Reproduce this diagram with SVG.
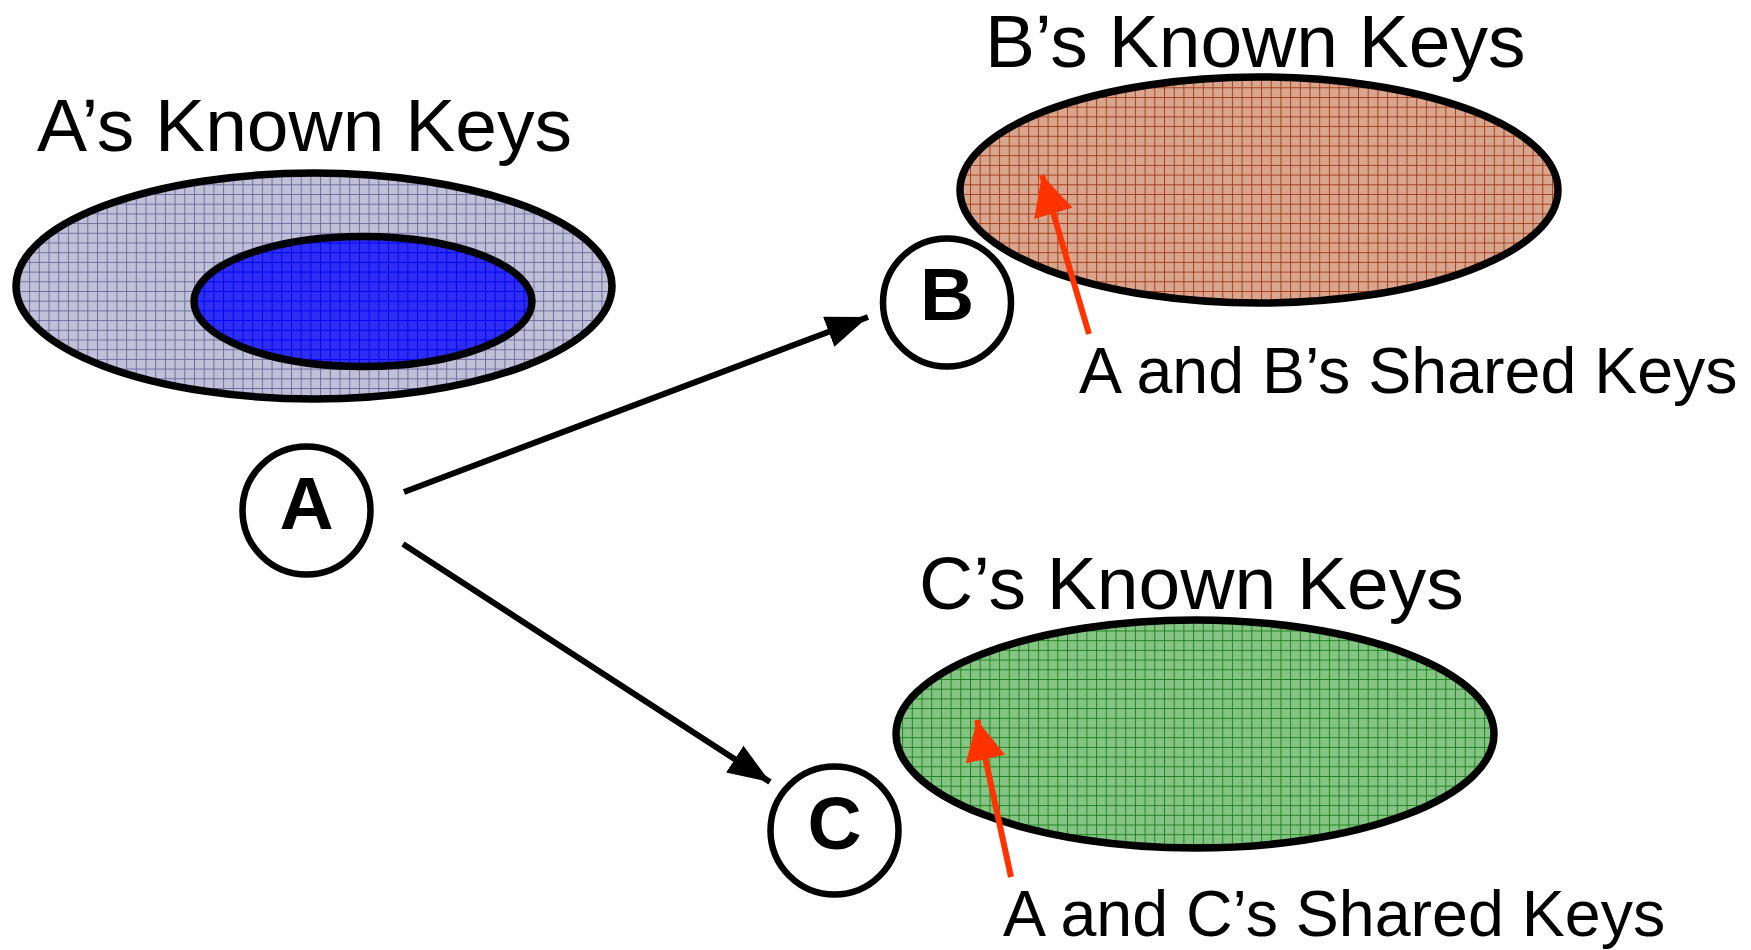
<svg xmlns="http://www.w3.org/2000/svg" width="1751" height="950" viewBox="0 0 1751 950">
<defs>
<style>
.lbl{font-family:"Liberation Sans",Arial,sans-serif;fill:#000}
.big{font-size:75px}
.mid{font-size:64.5px}
.node{font-family:"Liberation Sans",Arial,sans-serif;font-weight:bold;font-size:75px;text-anchor:middle;fill:#000}
.ring{fill:#fff;stroke:#000;stroke-width:6.5}
.set{stroke:#000;stroke-width:7.5}
.conn{stroke:#000;stroke-width:6;fill:none}
.ptr{stroke:#ff3300;stroke-width:6;fill:none}
</style>
<pattern id="pA" width="9.7" height="9.7" patternUnits="userSpaceOnUse">
<rect width="9.7" height="9.7" fill="#c0c0d6"/>
<path d="M0 0.5H9.7M0.5 0V9.7" stroke="#6e6ea6" stroke-width="1"/>
</pattern>
<pattern id="pI" width="9.7" height="9.7" patternUnits="userSpaceOnUse">
<rect width="9.7" height="9.7" fill="#2e2ef2"/>
<path d="M0 0.5H9.7M0.5 0V9.7" stroke="#0000ff" stroke-width="1"/>
</pattern>
<pattern id="pB" width="9.7" height="9.7" patternUnits="userSpaceOnUse">
<rect width="9.7" height="9.7" fill="#d8a68e"/>
<path d="M0 0.5H9.7M0.5 0V9.7" stroke="#a8401a" stroke-width="1"/>
</pattern>
<pattern id="pC" width="9.7" height="9.7" patternUnits="userSpaceOnUse">
<rect width="9.7" height="9.7" fill="#86c486"/>
<path d="M0 0.5H9.7M0.5 0V9.7" stroke="#1e861e" stroke-width="1"/>
</pattern>
<marker id="ah" markerUnits="userSpaceOnUse" markerWidth="44" markerHeight="34" refX="42" refY="16" orient="auto">
<path d="M0 0L42 16L0 32Z" fill="#000"/>
</marker>
<marker id="ahr" markerUnits="userSpaceOnUse" markerWidth="42" markerHeight="42" refX="40" refY="20" orient="auto">
<path d="M0 0L40 20L0 40Z" fill="#ff3300"/>
</marker>
</defs>
<rect width="1751" height="950" fill="#fff"/>

<g id="setA">
<ellipse class="set" cx="314" cy="286" rx="298" ry="113" fill="url(#pA)"/>
<ellipse class="set" cx="363" cy="301.5" rx="169" ry="65" fill="url(#pI)"/>
<text class="lbl big" x="37" y="151">A’s Known Keys</text>
</g>

<g id="setB">
<ellipse class="set" cx="1259" cy="190" rx="299" ry="113" fill="url(#pB)"/>
<text class="lbl big" x="985" y="67">B’s Known Keys</text>
</g>

<g id="setC">
<ellipse class="set" cx="1195" cy="734" rx="299" ry="114" fill="url(#pC)"/>
<text class="lbl big" x="919" y="609">C’s Known Keys</text>
</g>

<g id="nodeA">
<circle class="ring" cx="306.5" cy="510.5" r="64"/>
<text class="node" x="306.5" y="529">A</text>
</g>
<g id="nodeB">
<circle class="ring" cx="947" cy="302.5" r="64"/>
<text class="node" x="947" y="320">B</text>
</g>
<g id="nodeC">
<circle class="ring" cx="834.5" cy="830.5" r="64"/>
<text class="node" x="834.5" y="849">C</text>
</g>

<g id="connectors">
<line class="conn" x1="404" y1="492" x2="868" y2="317" marker-end="url(#ah)"/>
<line class="conn" x1="403" y1="544" x2="770" y2="782" marker-end="url(#ah)"/>
<line class="ptr" x1="1089" y1="334" x2="1042" y2="175" marker-end="url(#ahr)"/>
<line class="ptr" x1="1011" y1="877" x2="977" y2="720" marker-end="url(#ahr)"/>
</g>

<g id="labels">
<text class="lbl mid" x="1079" y="393">A and B’s Shared Keys</text>
<text class="lbl mid" x="1003" y="936">A and C’s Shared Keys</text>
</g>
</svg>
